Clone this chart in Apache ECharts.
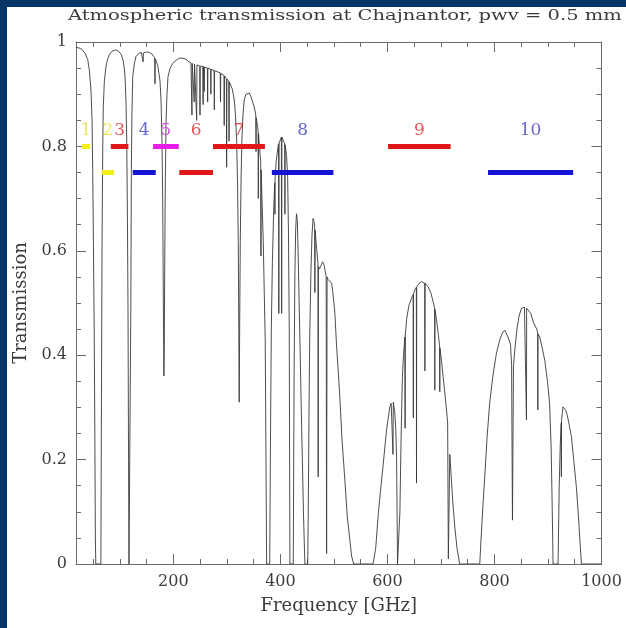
<!DOCTYPE html>
<html><head><meta charset="utf-8">
<script src="https://cdn.jsdelivr.net/npm/echarts@6/dist/echarts.min.js"></script>
<style>html,body{margin:0;padding:0;background:#fff;}#c{width:626px;height:628px;}</style>
</head><body><div id="c"></div>
<script>
// Atmospheric transmission curve: [frequency GHz, transmission]
const transmissionCurve = [
[18,0.99],[25,0.988],[30,0.985],[35,0.978],[40,0.966],[43,0.945],[46,0.908],[48,0.85],[49.3,0.75],[50.5,0.62],[52,0.45],[53.2,0.25],[54.2,0.05],[55,0],
[64.5,0],[65.5,0.3],[66.7,0.62],[68,0.8],[69,0.876],[71,0.925],[74,0.953],[77,0.967],[80,0.975],[85,0.982],[92,0.985],[98,0.982],[103,0.975],[106,0.965],[108.5,0.948],[110,0.927],[111.5,0.88],[112.8,0.812],[114,0.68],[115.2,0.49],[116.2,0.2],[117,0],[119.5,0],
[120.5,0.5],[121.4,0.748],[122.5,0.86],[124,0.934],[127,0.958],[130,0.972],[135,0.978],[140,0.98],[143,0.978],[143.5,0.962],[144,0.979],[150,0.981],[155,0.98],[160,0.977],[165,0.97],[165.6,0.92],[166.2,0.968],[168,0.965],[170.7,0.955],[173,0.94],[175,0.925],[177,0.885],[178.7,0.81],[180,0.7],[181.2,0.5],[182.3,0.36],[183,0.42],[183.7,0.56],[184.8,0.72],[186.2,0.845],[188,0.9],[190,0.934],[194,0.95],[198.7,0.959],[205,0.965],[211,0.969],[218,0.969],[223.5,0.967],[228,0.963],
[232.9,0.96],[234.2,0.959],[234.7,0.86],[235.2,0.959],[238.5,0.958],[239,0.885],[239.5,0.958],[243,0.956],[243.5,0.85],[244,0.956],[249.2,0.954],[249.7,0.86],[250.2,0.954],[255,0.953],[255.5,0.88],[256,0.953],[257.2,0.952],[257.7,0.905],[258.2,0.952],[263.5,0.95],[264,0.885],[264.5,0.95],[269.5,0.948],[270,0.9],[270.5,0.948],[276,0.945],[276.5,0.87],[277,0.945],[280,0.944],[287.5,0.941],[288,0.885],[288.5,0.94],[294.5,0.936],[295,0.84],[295.5,0.935],[299,0.93],[299.5,0.76],[300,0.929],[303.5,0.925],[304,0.81],[304.5,0.924],[307.6,0.921],[310,0.91],
[313.8,0.889],[316,0.86],[318.2,0.812],[320,0.72],[321.2,0.62],[322.2,0.45],[323,0.31],[323.8,0.45],[325,0.62],[326.5,0.74],[328,0.812],[330,0.86],[332.4,0.889],[335.5,0.9],[338.7,0.903],[342,0.902],[345,0.895],[348,0.885],[351,0.876],[354,0.86],[354.4,0.79],[354.8,0.855],[357.4,0.838],[358.3,0.83],[358.7,0.70],[359.1,0.825],[360,0.81],[362,0.785],[363.2,0.77],[363.6,0.59],[364,0.755],[365.5,0.70],[367.9,0.62],[369.8,0.52],[371.6,0.429],[373,0.2],[374.2,0],
[380,0],[381.5,0.25],[383,0.45],[385,0.58],[387.5,0.68],[389.3,0.73],[389.7,0.67],[390.1,0.74],[392,0.77],[395,0.795],[396.5,0.805],[397,0.48],[397.5,0.806],[401.8,0.818],[402.3,0.48],[402.8,0.818],[403.7,0.819],[406,0.815],[408,0.805],[408.4,0.67],[408.8,0.803],[411.6,0.78],[413.5,0.74],[415,0.64],[416.5,0.45],[417.7,0],[424,0],
[425.5,0.35],[427,0.55],[428.5,0.64],[430,0.671],[431.5,0.66],[433,0.6],[435,0.5],[437,0.4],[439.6,0.263],[441,0.2],[443,0.1],[445.7,0],[451,0],
[452,0.1],[453.5,0.3],[454.6,0.42],[455,0.448],[455.4,0.47],[457,0.56],[459,0.63],[461,0.662],[463,0.655],[464,0.645],[464.4,0.52],[464.8,0.64],[468,0.6],[470.2,0.575],[470.6,0.167],[471,0.57],[473,0.565],[476,0.572],[478.8,0.579],[481,0.575],[484,0.56],[485.5,0.55],[486.3,0.02],[487.2,0.55],[489,0.545],[492.4,0.544],[495.6,0.538],[498,0.52],[500,0.5],[501.8,0.48],[505,0.416],[508,0.37],[511,0.32],[515,0.24],[520.4,0.161],[525,0.09],[529.8,0.046],[533,0.015],[537,0],
[573,0],[578,0.03],[583,0.097],[587,0.14],[592,0.19],[598.3,0.257],[604.5,0.301],[607,0.308],[609.5,0.311],[610.3,0.21],[611,0.31],[613.8,0.289],[615.5,0.26],[617,0.206],[618,0.1],[618.8,0],[622,0],
[623.3,0.1],[624.5,0.18],[626,0.27],[628,0.359],[630,0.4],[632.5,0.435],[633,0.26],[633.5,0.44],[636,0.47],[640,0.495],[646,0.512],[648,0.516],[648.4,0.28],[648.8,0.518],[651,0.525],[654,0.53],[654.3,0.155],[654.7,0.53],[657,0.535],[663.6,0.541],[669.6,0.538],[670,0.37],[670.4,0.538],[676,0.531],[681,0.52],[686,0.5],[688.2,0.49],[688.5,0.333],[688.8,0.488],[691.7,0.467],[695,0.44],[697.5,0.418],[697.8,0.33],[698.1,0.414],[701,0.39],[704,0.359],[707,0.33],[710.4,0.295],[712.5,0.27],[713.8,0.01],[715.5,0.01],[716.5,0.21],[719,0.17],[722,0.12],[726,0.07],[730,0.03],[735,0],
[772.5,0],[775,0.05],[778.7,0.116],[782,0.17],[786,0.24],[791,0.308],[797,0.36],[803.7,0.404],[810,0.43],[815,0.443],[819.2,0.448],[823,0.44],[827,0.43],[830,0.42],[832,0.38],[833.6,0.084],[835.5,0.38],[838,0.41],[842,0.45],[846,0.475],[850.4,0.49],[856,0.492],[859.5,0.491],[859.8,0.276],[860.1,0.49],[862.7,0.49],[868,0.48],[873,0.462],[879,0.45],[880.7,0.443],[881,0.295],[881.3,0.441],[884.6,0.435],[890,0.41],[894,0.39],[899,0.35],[903,0.308],[906,0.22],[908,0.1],[909.5,0],[918.8,0],
[921,0.15],[923,0.23],[924.7,0.27],[925,0.167],[925.3,0.275],[928,0.301],[930,0.303],[933,0.295],[936,0.285],[940,0.265],[943.8,0.244],[948,0.2],[953,0.148],[957,0.09],[960,0.04],[962.5,0],[1000,0]
];

// ALMA bands
const bandNames = ['1','2','3','4','5','6','7','8','9','10'];
const bandLow   = [29, 66, 83, 124, 162, 211, 274, 384, 601, 788];
const bandHigh  = [44, 89, 116, 167, 210, 274, 371, 499, 718, 947];
const bandLevel = [0.80, 0.75, 0.80, 0.75, 0.80, 0.75, 0.80, 0.75, 0.80, 0.75];

// Axis ticks
const xMajorTicks = [200, 400, 600, 800, 1000];
const xMinorTicks = [50,100,150,200,250,300,350,400,450,500,550,600,650,700,750,800,850,900,950];

// styles
const barColors   = ['#f2ee1a','#f2ee1a','#e01818','#1414d8','#e81ee8','#e01818','#e01818','#1414d8','#e01818','#1414d8'];
const labelColors = ['#e6e23c','#e6e23c','#e02a2a','#4040c4','#c83ad4','#e02a2a','#e02a2a','#4040c4','#e02a2a','#4040c4'];

const FONT = 'DejaVu Serif';
const axisGray = '#6a6a6a';
const textGray = '#3c3c3c';
const X_MIN = 18, X_MAX = 1000;
const LABEL_Y = 0.83;

const chart = echarts.init(document.getElementById('c'), null, {renderer: 'canvas'});

const xBase = {type: 'value', min: X_MIN, max: X_MAX, gridIndex: 0, splitLine: {show: false}};
const xAxes = [
  Object.assign({}, xBase, {
    position: 'bottom',
    axisLine: {show: true, lineStyle: {color: axisGray, width: 1}},
    axisTick: {show: true, inside: true, length: 10, customValues: xMajorTicks, lineStyle: {color: axisGray}},
    axisLabel: {show: true, customValues: xMajorTicks, margin: 10, color: textGray, fontFamily: FONT, fontSize: 16,
                formatter: function (v) { return String(v); }},
    name: 'Frequency [GHz]', nameLocation: 'middle', nameGap: 33,
    nameTextStyle: {color: textGray, fontFamily: FONT, fontSize: 18}
  }),
  Object.assign({}, xBase, {
    position: 'bottom',
    axisLine: {show: false},
    axisTick: {show: true, inside: true, length: 5, customValues: xMinorTicks, lineStyle: {color: axisGray}},
    axisLabel: {show: false}
  }),
  Object.assign({}, xBase, {
    position: 'top',
    axisLine: {show: true, lineStyle: {color: axisGray, width: 1}},
    axisTick: {show: true, inside: true, length: 10, customValues: xMajorTicks, lineStyle: {color: axisGray}},
    axisLabel: {show: false}
  }),
  Object.assign({}, xBase, {
    position: 'top',
    axisLine: {show: false},
    axisTick: {show: true, inside: true, length: 5, customValues: xMinorTicks, lineStyle: {color: axisGray}},
    axisLabel: {show: false}
  })
];

const yBase = {
  type: 'value', min: 0, max: 1, interval: 0.2, gridIndex: 0,
  splitLine: {show: false},
  axisLine: {show: true, lineStyle: {color: axisGray, width: 1}},
  axisTick: {show: true, inside: true, length: 10, lineStyle: {color: axisGray}},
  minorTick: {show: true, splitNumber: 4, length: 5, lineStyle: {color: axisGray}},
  minorSplitLine: {show: false}
};
const yAxes = [
  Object.assign({}, yBase, {
    position: 'left',
    axisLabel: {show: true, margin: 9, color: textGray, fontFamily: FONT, fontSize: 16},
    name: 'Transmission', nameLocation: 'middle', nameGap: 46, nameRotate: 90,
    nameTextStyle: {color: textGray, fontFamily: FONT, fontSize: 18}
  }),
  Object.assign({}, yBase, {position: 'right', axisLabel: {show: false}})
];

const series = [{
  type: 'line', name: 'transmission', data: transmissionCurve,
  xAxisIndex: 0, yAxisIndex: 0, showSymbol: false, symbol: 'none',
  smooth: false, animation: false,
  lineStyle: {color: '#3a3a3a', width: 0.9}, z: 2
}];

bandNames.forEach((nm, i) => {
  series.push({
    type: 'line', name: 'band' + nm,
    data: [[bandLow[i], bandLevel[i]], [bandHigh[i], bandLevel[i]]],
    xAxisIndex: 0, yAxisIndex: 0, showSymbol: false, symbol: 'none', animation: false,
    lineStyle: {color: barColors[i], width: 5, cap: 'butt'}, z: 5
  });
});

series.push({
  type: 'scatter', name: 'bandLabels',
  xAxisIndex: 0, yAxisIndex: 0, symbolSize: 1, animation: false, z: 6,
  itemStyle: {color: 'rgba(0,0,0,0)'},
  data: bandNames.map((nm, i) => ({
    value: [(bandLow[i] + bandHigh[i]) / 2, LABEL_Y],
    label: {show: true, position: 'inside', formatter: nm, color: labelColors[i],
            fontFamily: FONT, fontSize: 17}
  }))
});

chart.setOption({
  animation: false,
  backgroundColor: '#ffffff',
  grid: {left: 76, right: 24.5, top: 42, bottom: 64, containLabel: false},
  xAxis: xAxes,
  yAxis: yAxes,
  series: series,
  graphic: [
    {type: 'text', x: 68, y: 16, scaleX: 1.3, scaleY: 1, z: 10,
     style: {text: 'Atmospheric transmission at Chajnantor, pwv = 0.5 mm',
             fontFamily: FONT, fontSize: 15, fill: textGray,
             textAlign: 'left', textVerticalAlign: 'middle', verticalAlign: 'middle'}},
    {type: 'rect', shape: {x: 0, y: 0, width: 7, height: 628}, style: {fill: '#083568'}, z: 20},
    {type: 'rect', shape: {x: 0, y: 0, width: 626, height: 7}, style: {fill: '#083568'}, z: 20}
  ]
});
</script></body></html>
